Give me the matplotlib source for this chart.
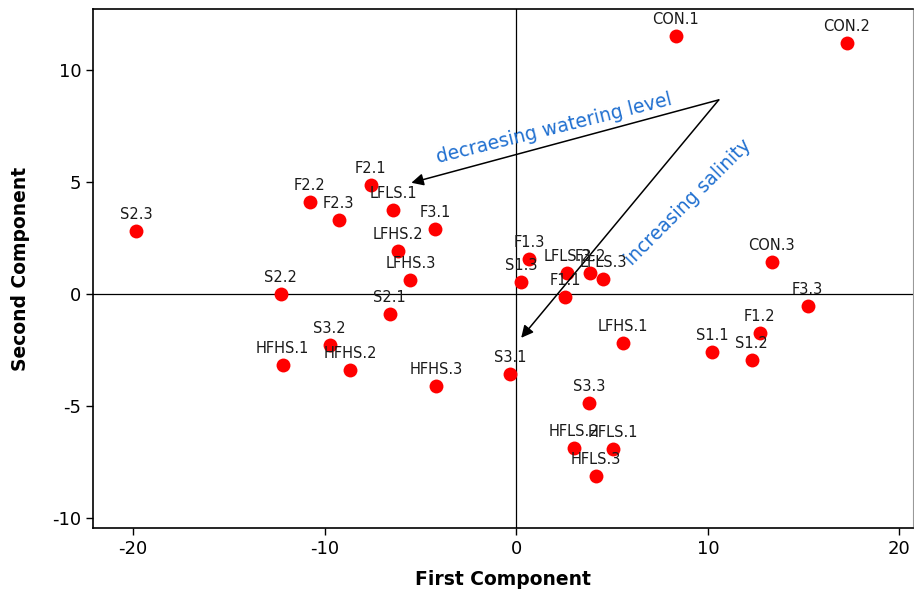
import matplotlib.pyplot as plt

plt.rcParams['axes.unicode_minus'] = False

# PCA scores of the treatments
labels = ['CON.1', 'CON.2', 'CON.3',
          'F1.1', 'F1.2', 'F1.3',
          'F2.1', 'F2.2', 'F2.3',
          'F3.1', 'F3.2', 'F3.3',
          'S1.1', 'S1.2', 'S1.3',
          'S2.1', 'S2.2', 'S2.3',
          'S3.1', 'S3.2', 'S3.3',
          'LFLS.1', 'LFLS.2', 'LFLS.3',
          'LFHS.1', 'LFHS.2', 'LFHS.3',
          'HFLS.1', 'HFLS.2', 'HFLS.3',
          'HFHS.1', 'HFHS.2', 'HFHS.3']
pc1 = [8.33, 17.24, 13.33,
       2.55, 12.71, 0.68,
       -7.60, -10.78, -9.27,
       -4.22, 3.85, 15.21,
       10.21, 12.29, 0.26,
       -6.61, -12.29, -19.84,
       -0.31, -9.74, 3.80,
       -6.41, 2.66, 4.53,
       5.57, -6.15, -5.52,
       5.05, 3.02, 4.17,
       -12.19, -8.65, -4.17]
pc2 = [11.52, 11.21, 1.43,
       -0.13, -1.74, 1.56,
       4.87, 4.11, 3.30,
       2.90, 0.94, -0.54,
       -2.59, -2.95, 0.54,
       -0.89, 0.0, 2.81,
       -3.57, -2.28, -4.87,
       3.75, 0.94, 0.67,
       -2.19, 1.92, 0.63,
       -6.92, -6.88, -8.13,
       -3.17, -3.39, -4.11]

# trend arrows: common origin and two tips
arrow_start = (10.57, 8.66)
water_tip = (-5.47, 4.96)
salt_tip = (0.26, -1.96)

fig = plt.figure(figsize=(9.14, 5.94), dpi=100)
ax = fig.add_axes([0.1018, 0.111, 0.897, 0.874])

ax.axhline(0, color='black', lw=0.9, zorder=1)
ax.axvline(0, color='black', lw=0.9, zorder=1)

ax.scatter(pc1, pc2, s=100, color='#ff0000', zorder=3, linewidths=0)
for lab, x, y in zip(labels, pc1, pc2):
    ax.annotate(lab, (x, y), xytext=(0, 6.5), textcoords='offset points',
                ha='center', va='bottom', fontsize=10.5, color='#1a1a1a', zorder=4)

for tip in (water_tip, salt_tip):
    ax.annotate('', xy=tip, xytext=arrow_start,
                arrowprops=dict(arrowstyle='-|>', color='black', lw=1.1,
                                mutation_scale=18, shrinkA=0, shrinkB=0))

ax.text(2.0, 7.4, 'decraesing watering level', color='#1f6fd0', fontsize=13.5,
        rotation=14, ha='center', va='center')
ax.text(9.0, 4.1, 'increasing salinity', color='#1f6fd0', fontsize=13.5,
        rotation=45, ha='center', va='center')

ax.set_xlim(-22.08, 20.7)
ax.set_ylim(-10.45, 12.72)
ax.set_xticks([-20, -10, 0, 10, 20])
ax.set_yticks([-10, -5, 0, 5, 10])
ax.tick_params(labelsize=13, length=5, width=1)
ax.set_xlabel('First Component', fontsize=13.5, fontweight='bold', labelpad=9)
ax.set_ylabel('Second Component', fontsize=13.5, fontweight='bold', labelpad=16)
for sp in ax.spines.values():
    sp.set_linewidth(1.2)
ax.spines['right'].set_color('#999999')
ax.spines['right'].set_linewidth(0.8)

fig.savefig('out.png', dpi=100)
